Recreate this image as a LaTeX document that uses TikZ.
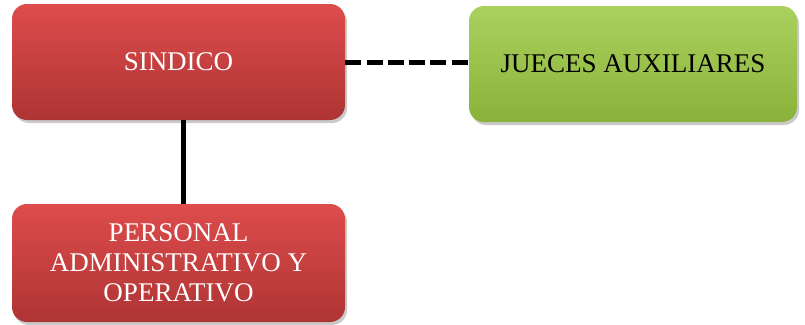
\documentclass[tikz,border=0pt]{standalone}
\usepackage{fontspec}
\setmainfont{Liberation Serif}
\usetikzlibrary{shadows}
\definecolor{redtop}{HTML}{DE4C4C}
\definecolor{redbot}{HTML}{AE3434}
\definecolor{greentop}{HTML}{AAD15E}
\definecolor{greenbot}{HTML}{8AB23A}
\tikzset{
  box/.style={rounded corners=15pt, minimum width=333pt, minimum height=116pt,
    inner sep=0pt, align=center, font=\fontsize{27}{30}\selectfont,
    drop shadow={shadow xshift=2pt, shadow yshift=-3pt, opacity=0.35, fill=black!60}},
  redbox/.style={box, top color=redtop, bottom color=redbot, text=white},
  greenbox/.style={box, top color=greentop, bottom color=greenbot, text=black, minimum width=328pt},
  link/.style={line width=5pt, black}
}
\begin{document}
\begin{tikzpicture}[x=1pt,y=1pt]
\useasboundingbox (0,0) rectangle (805,-324);
\node[redbox] (sindico) at (178.5,-62) {SINDICO};
\node[greenbox] (jueces) at (633,-64) {JUECES AUXILIARES};
\node[redbox, minimum height=118pt] (personal) at (178.5,-263) {PERSONAL\\ADMINISTRATIVO Y\\OPERATIVO};
\draw[link] ([xshift=4.5pt]sindico.south) -- ([xshift=4.5pt]personal.north);
\draw[link, dash pattern=on 16pt off 5.3pt] (sindico.east) -- (sindico.east -| jueces.west);
\end{tikzpicture}
\end{document}
